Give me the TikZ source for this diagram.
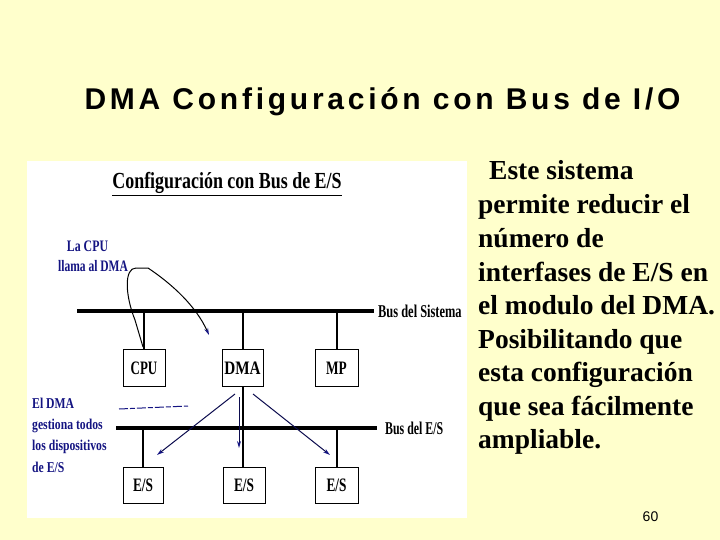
\documentclass[tikz,border=0pt]{standalone}
\usepackage{fontspec}
\setmainfont{Liberation Serif}
\newfontfamily\titlefont[LetterSpace=12.5]{Liberation Sans}
\newfontfamily\pgfont{Liberation Sans}
\usetikzlibrary{arrows.meta}
\definecolor{bg}{RGB}{255,255,204}
\definecolor{navy}{RGB}{20,20,130}
\newcommand\sq[2]{\scalebox{#1}[1]{#2}}
\begin{document}
\begin{tikzpicture}[x=1pt,y=-1pt,
  box/.style={draw=black, line width=1pt, minimum height=37pt, inner sep=0pt, fill=white,
     font=\fontsize{19}{19}\selectfont\bfseries},
  bus/.style={line width=4.5pt},
  stub/.style={line width=2pt},
  arr/.style={line width=1pt, draw=navy!60!black, -{Stealth[length=7pt,width=4pt,color=navy]}},
  lbl/.style={inner sep=0pt, font=\fontsize{18}{18}\selectfont\bfseries},
  blu/.style={inner sep=0pt, text=navy, font=\fontsize{16}{16}\selectfont\bfseries},
  blu2/.style={inner sep=0pt, text=navy, anchor=west, font=\fontsize{15}{15}\selectfont\bfseries},
  body/.style={inner sep=0pt, anchor=base west, font=\fontsize{27.5}{27.5}\selectfont\bfseries}]
\fill[bg] (0,0) rectangle (720,540);
\useasboundingbox (0,0) rectangle (720,540);
\fill[white] (27,161) rectangle (467,518);

% title
\node[inner sep=0pt, anchor=base, font=\titlefont\fontsize{30}{30}\selectfont\bfseries] (title) at (382.5,110) {DMA Configuración con Bus de I/O};

% right text
\node[body] (t1) at (489,180) {Este sistema};
\node[body] (t2) at (478,214) {permite reducir el};
\node[body] (t3) at (478,247.5) {número de};
\node[body] (t4) at (478,281) {interfases de E/S en};
\node[body] (t5) at (478,314.5) {el modulo del DMA.};
\node[body] (t6) at (478,348) {Posibilitando que};
\node[body] (t7) at (478,381.5) {esta configuración};
\node[body] (t8) at (478,415) {que sea fácilmente};
\node[body] (t9) at (478,448.5) {ampliable.};

\node[inner sep=0pt, font=\pgfont\fontsize{14}{14}\selectfont] (pg) at (650.5,517) {60};

% diagram subtitle
\node[inner sep=0pt, anchor=base, font=\fontsize{23}{23}\selectfont\bfseries] (sub) at (227,189) {\sq{0.78}{\underline{Configuración con Bus de E/S}}};

% boxes
\node[box, minimum width=42pt] (cpu) at (144,368) {\sq{0.68}{CPU}};
\node[box, minimum width=41pt] (dma) at (242.5,368) {\sq{0.8}{DMA}};
\node[box, minimum width=43pt] (mp) at (336.5,368) {\sq{0.7}{MP}};
\node[box, minimum width=40pt, minimum height=36pt] (es1) at (143,485) {\sq{0.7}{E/S}};
\node[box, minimum width=42pt, minimum height=36pt] (es2) at (244,485) {\sq{0.7}{E/S}};
\node[box, minimum width=43pt, minimum height=36pt] (es3) at (336.5,485) {\sq{0.7}{E/S}};

% buses
\coordinate (sysL) at (77,311);
\coordinate (sysR) at (374,311);
\coordinate (ioL) at (116,428);
\coordinate (ioR) at (377,428);
\draw[bus] (sysL) -- (sysR);
\draw[bus] (ioL) -- (ioR);
\node[lbl, anchor=west] (sysl) at (378,311) {\sq{0.69}{Bus del Sistema}};
\node[lbl, anchor=west] (iol) at (385,428) {\sq{0.66}{Bus del E/S}};

% stubs
\draw[stub] (cpu.north) -- (cpu.north |- sysL);
\draw[stub] (dma.north) -- (dma.north |- sysL);
\draw[stub] (mp.north) -- (mp.north |- sysL);
\draw[stub] (es1.north) -- (es1.north |- ioL);
\draw[stub] (es3.north) -- (es3.north |- ioL);
\draw[stub] (dma.south) -- (dma.south |- es2.north);

% blue labels
\node[blu] (la1) at (87.5,246) {\sq{0.74}{La CPU}};
\node[blu] (la2) at (93,266) {\sq{0.72}{llama al DMA}};
\node[blu2] (el1) at (32,403) {\sq{0.78}{El DMA}};
\node[blu2] (el2) at (32,426) {\sq{0.78}{gestiona todos}};
\node[blu2] (el3) at (32,447) {\sq{0.78}{los dispositivos}};
\node[blu2] (el4) at (32,467) {\sq{0.78}{de E/S}};

% curve CPU -> DMA
\coordinate (c0) at (143,347);
\coordinate (c1) at (209,335);
\draw[arr, draw=black] (c0) -- (135,320) .. controls (125,295) and (124,268) .. (136,268) -- (148,268) .. controls (172,284) and (196,306) .. (c1);

% dashed pointer
\coordinate (p0) at (119,409);
\coordinate (p1) at (188,406);
\draw[navy, line width=1pt, dash pattern=on 9pt off 2pt on 5pt off 2pt] (p0) -- (p1);

% DMA -> E/S arrows
\coordinate (d1) at (235,394);
\coordinate (d2) at (239,397);
\coordinate (d3) at (253,394);
\coordinate (e1) at (157,455);
\coordinate (e2) at (239,448);
\coordinate (e3) at (330,455);
\draw[arr] (d1) -- (e1);
\draw[arr] (d2) -- (e2);
\draw[arr] (d3) -- (e3);
\end{tikzpicture}
\end{document}
